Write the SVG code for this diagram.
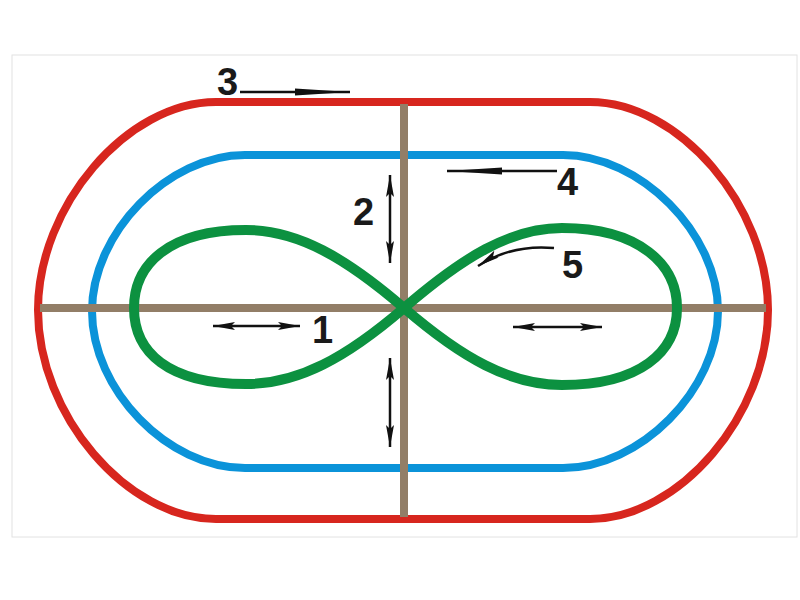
<svg xmlns="http://www.w3.org/2000/svg" width="800" height="600" viewBox="0 0 800 600">
<style>
.track{fill:none;stroke-linejoin:round}
.red{stroke:#d7261e;stroke-width:8}
.blue{stroke:#0b93d9;stroke-width:8}
.axis{stroke:#927e67;stroke-width:8;fill:none}
.eight{fill:none;stroke:#0c9140;stroke-width:10}
.arr{stroke:#111;stroke-width:2.5;fill:none}
.lbl{font-family:"Liberation Sans",Arial,sans-serif;font-weight:bold;font-size:38px;fill:#1a1a1a}
</style>
<defs>
<marker id="hs" viewBox="0 0 22 9" refX="22" refY="4.5" markerWidth="22" markerHeight="9" markerUnits="userSpaceOnUse" orient="auto-start-reverse">
<path d="M0,0.5 L22,4.5 L0,8.5 L4,4.5 Z" fill="#111"/>
</marker>
<marker id="hl" viewBox="0 0 55 8" refX="55" refY="4" markerWidth="55" markerHeight="8" markerUnits="userSpaceOnUse" orient="auto">
<path d="M0,0.5 L55,4 L0,7.5 Z" fill="#111"/>
</marker>
</defs>
<rect x="0" y="0" width="800" height="600" fill="#fff"/>
<rect x="12" y="55" width="785" height="482" fill="#fff" stroke="#e2e2e2" stroke-width="1"/>
<g id="outer-track">
<path class="track red" d="M216,102 L590,102 C679,102 768,206 768,310 C768,415 679,519 590,519 L216,519 C127,519 38,415 38,310 C38,206 127,102 216,102 Z"/>
</g>
<g id="inner-track">
<path class="track blue" d="M245,155 L563,155 C640,155 718,233 718,311 C718,390 640,468 563,468 L245,468 C168,468 92,390 92,311 C92,233 168,155 245,155 Z"/>
</g>
<g id="axes">
<line class="axis" x1="404" y1="104" x2="404" y2="517"/>
<line class="axis" x1="40" y1="308" x2="766" y2="308"/>
</g>
<g id="figure-eight">
<path class="eight" d="M404,308 C462,258 510,228 562,228 C640,228 677,265 677,308 C677,352 640,385 562,385 C510,385 462,358 404,308 C346,258 298,230 246,230 C168,230 134,265 134,308 C134,352 168,384 246,384 C298,384 346,358 404,308 Z"/>
</g>
<g id="connectors">
<line class="arr" x1="213" y1="326" x2="300" y2="326" marker-start="url(#hs)" marker-end="url(#hs)"/>
<line class="arr" x1="513" y1="327" x2="602" y2="327" marker-start="url(#hs)" marker-end="url(#hs)"/>
<line class="arr" x1="390" y1="175" x2="390" y2="263" marker-start="url(#hs)" marker-end="url(#hs)"/>
<line class="arr" x1="390" y1="358" x2="390" y2="447" marker-start="url(#hs)" marker-end="url(#hs)"/>
<line class="arr" x1="240" y1="92" x2="350" y2="92" marker-end="url(#hl)"/>
<line class="arr" x1="557" y1="171" x2="447" y2="171" marker-end="url(#hl)"/>
<path class="arr" d="M554,248 Q512,244 478,266" marker-end="url(#hs)"/>
</g>
<g id="labels">
<text class="lbl" x="312" y="343">1</text>
<text class="lbl" x="353" y="225">2</text>
<text class="lbl" x="217" y="95">3</text>
<text class="lbl" x="557" y="195">4</text>
<text class="lbl" x="562" y="278">5</text>
</g>
</svg>
